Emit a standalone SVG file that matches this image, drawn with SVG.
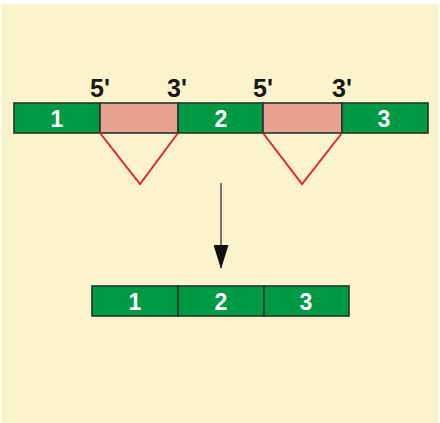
<svg xmlns="http://www.w3.org/2000/svg" width="440" height="423" viewBox="0 0 440 423">
  <style>
    .exon { fill: #009a44; stroke: #22352a; stroke-width: 1.6; }
    .intron { fill: #e8a191; stroke: #22352a; stroke-width: 1.6; }
    .num { font-family: "Liberation Sans", Arial, sans-serif; font-weight: bold; font-size: 23px; fill: #ffffff; text-anchor: middle; }
    .end { font-family: "Liberation Sans", Arial, sans-serif; font-weight: bold; font-size: 25px; fill: #1a1a1a; text-anchor: middle; }
    .splice { fill: none; stroke: #e0283c; stroke-width: 2; stroke-linejoin: miter; }
  </style>
  <defs>
    <marker id="head" viewBox="0 0 24 15" refX="23" refY="7.5" markerWidth="24" markerHeight="15" markerUnits="userSpaceOnUse" orient="auto">
      <path d="M0,0 L24,7.5 L0,15 Z" fill="#111111"/>
    </marker>
  </defs>

  <!-- page background -->
  <rect x="0" y="0" width="440" height="423" fill="#ffffff"/>
  <rect x="1" y="4" width="438" height="419" fill="#fbf3cc"/>

  <!-- pre-mRNA: exons and introns -->
  <g id="pre-exon1">
    <rect class="exon" x="14" y="103" width="86" height="30"/>
    <text class="num" x="57" y="127">1</text>
  </g>
  <g id="pre-intron1">
    <rect class="intron" x="100" y="103" width="78" height="30"/>
  </g>
  <g id="pre-exon2">
    <rect class="exon" x="178" y="103" width="85" height="30"/>
    <text class="num" x="221" y="127">2</text>
  </g>
  <g id="pre-intron2">
    <rect class="intron" x="263" y="103" width="79" height="30"/>
  </g>
  <g id="pre-exon3">
    <rect class="exon" x="342" y="103" width="86" height="30"/>
    <text class="num" x="384" y="127">3</text>
  </g>

  <!-- splice-site labels -->
  <g id="site-labels">
    <text class="end" x="100" y="97">5'</text>
    <text class="end" x="177" y="97">3'</text>
    <text class="end" x="263" y="97">5'</text>
    <text class="end" x="342" y="97">3'</text>
  </g>

  <!-- mature mRNA -->
  <g id="mrna-exon1">
    <rect class="exon" x="92" y="286" width="86" height="30"/>
    <text class="num" x="135" y="310">1</text>
  </g>
  <g id="mrna-exon2">
    <rect class="exon" x="178" y="286" width="86" height="30"/>
    <text class="num" x="221" y="310">2</text>
  </g>
  <g id="mrna-exon3">
    <rect class="exon" x="264" y="286" width="85" height="30"/>
    <text class="num" x="306" y="310">3</text>
  </g>

  <!-- connectors: intron loops and processing arrow -->
  <g id="connectors">
    <polyline class="splice" points="100,133 140,184 178,133"/>
    <polyline class="splice" points="263,133 302,184 342,133"/>
    <line x1="221" y1="183" x2="221" y2="268" stroke="#6b6656" stroke-width="1.8" marker-end="url(#head)"/>
  </g>
</svg>
